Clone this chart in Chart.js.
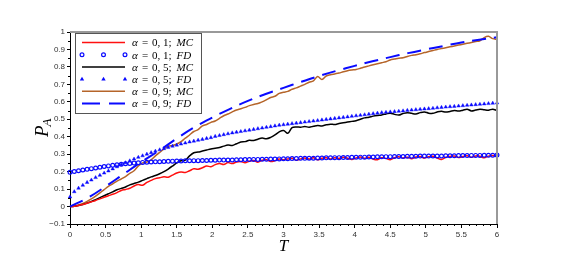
<!DOCTYPE html>
<html><head><meta charset="utf-8">
<script src="https://cdn.jsdelivr.net/npm/chart.js@4"></script>
<style>html,body{margin:0;padding:0;background:#fff}#wrap{width:569px;height:256px}</style>
</head><body><div id="wrap"><canvas id="c" width="569" height="256"></canvas></div>
<script>
// ---------- data ----------
const T = [0,0.06,0.12,0.18,0.24,0.3,0.36,0.42,0.48,0.54,
0.6,0.66,0.72,0.78,0.84,0.9,0.96,1.02,1.08,1.14,
1.2,1.26,1.32,1.38,1.44,1.5,1.56,1.62,1.68,1.74,
1.8,1.86,1.92,1.98,2.04,2.1,2.16,2.22,2.28,2.34,
2.4,2.46,2.52,2.58,2.64,2.7,2.76,2.82,2.88,2.94,
3,3.06,3.12,3.18,3.24,3.3,3.36,3.42,3.48,3.54,
3.6,3.66,3.72,3.78,3.84,3.9,3.96,4.02,4.08,4.14,
4.2,4.26,4.32,4.38,4.44,4.5,4.56,4.62,4.68,4.74,
4.8,4.86,4.92,4.98,5.04,5.1,5.16,5.22,5.28,5.34,
5.4,5.46,5.52,5.58,5.64,5.7,5.76,5.82,5.88,5.94,
6];
const Tcoarse = [0,0.25,0.5,0.75,1,1.25,1.5,1.75,2,2.25,2.5,2.75,3,3.25,3.5,3.75,4,4.25,4.5,4.75,5,5.25,5.5,5.75,6];

const mc01 = [0,.002,.006,.012,.019,.027,.035,.044,.053,.062,
.070,.080,.092,.098,.105,.118,.126,.122,.138,.150,
.160,.165,.170,.168,.180,.192,.198,.195,.205,.216,
.214,.222,.232,.228,.240,.247,.241,.252,.246,.255,
.258,.251,.260,.264,.254,.265,.268,.258,.263,.272,
.268,.272,.277,.265,.273,.278,.272,.279,.268,.277,
.280,.273,.280,.276,.283,.277,.270,.279,.284,.276,
.283,.272,.268,.280,.276,.268,.280,.285,.278,.283,
.274,.284,.287,.278,.285,.288,.278,.270,.282,.287,
.289,.281,.287,.291,.282,.290,.288,.279,.289,.292,
.285];
const fd01 = [.196,.201,.205,.209,.213,.217,.221,.225,.229,.233,
.236,.239,.242,.245,.247,.249,.251,.253,.254,.255,
.256,.257,.258,.259,.260,.261,.261,.262,.262,.263,
.263,.264,.264,.265,.265,.266,.266,.267,.267,.268,
.268,.269,.269,.270,.270,.271,.271,.272,.272,.273,
.274,.274,.275,.275,.276,.276,.277,.277,.278,.278,
.279,.279,.280,.280,.281,.281,.282,.282,.283,.283,
.284,.284,.285,.285,.286,.286,.287,.287,.287,.288,
.288,.288,.289,.289,.289,.290,.290,.290,.291,.291,
.291,.292,.292,.292,.293,.293,.293,.294,.294,.294,
.295];
const mc05 = [0,.002,.006,.012,.020,.029,.040,.051,.062,.073,
.084,.096,.104,.112,.124,.132,.140,.150,.160,.170,
.178,.188,.200,.215,.232,.250,.262,.266,.290,.308,
.312,.318,.324,.330,.334,.338,.346,.352,.350,.360,
.370,.372,.380,.378,.386,.392,.388,.396,.410,.428,
.436,.420,.452,.456,.455,.458,.455,.460,.465,.462,
.468,.472,.470,.476,.480,.484,.488,.492,.500,.508,
.512,.518,.522,.525,.530,.535,.528,.524,.533,.538,
.534,.530,.538,.542,.535,.534,.542,.546,.541,.545,
.550,.547,.552,.558,.548,.553,.558,.555,.552,.558,
.550];
const fd05 = [.055,.085,.105,.122,.138,.152,.166,.179,.192,.204,
.216,.228,.240,.251,.262,.272,.282,.291,.300,.309,
.317,.325,.332,.339,.346,.352,.358,.364,.370,.375,
.380,.385,.390,.395,.402,.407,.412,.417,.422,.426,
.430,.434,.438,.442,.446,.450,.454,.458,.462,.466,
.469,.472,.475,.478,.481,.484,.487,.490,.493,.496,
.499,.502,.505,.508,.511,.514,.517,.520,.523,.526,
.529,.532,.535,.538,.540,.542,.544,.546,.548,.551,
.553,.555,.557,.559,.561,.563,.566,.568,.570,.572,
.574,.576,.578,.580,.582,.584,.586,.588,.590,.592,
.594];
const mc09 = [0,.003,.009,.018,.030,.044,.060,.078,.097,.115,
.130,.146,.158,.172,.190,.205,.232,.250,.255,.268,
.290,.310,.330,.345,.350,.358,.372,.392,.410,.430,
.440,.462,.470,.482,.490,.505,.520,.530,.542,.553,
.560,.568,.578,.585,.590,.600,.612,.625,.632,.648,
.655,.660,.672,.680,.690,.700,.712,.720,.745,.728,
.748,.755,.760,.765,.772,.778,.782,.785,.792,.800,
.806,.812,.818,.824,.830,.840,.845,.850,.852,.860,
.866,.870,.875,.882,.888,.894,.900,.905,.910,.915,
.920,.925,.930,.935,.940,.945,.950,.968,.975,.962,
.958];
const fd09 = [0,.05,.115,.185,.255,.32,.39,.455,.51,.56,.605,.645,.68,.715,.748,.778,.806,.832,.856,.879,.9,.92,.94,.956,.97];

const xTickValues = [0,0.5,1,1.5,2,2.5,3,3.5,4,4.5,5,5.5,6];
const xTickLabels = ['0','0.5','1','1.5','2','2.5','3','3.5','4','4.5','5','5.5','6'];
const yTickValues = [-0.1,0,0.1,0.2,0.3,0.4,0.5,0.6,0.7,0.8,0.9,1];
const yTickLabels = ['\u22120.1','0','0.1','0.2','0.3','0.4','0.5','0.6','0.7','0.8','0.9','1'];

const alphaLabels = ['0, 1','0, 1','0, 5','0, 5','0, 9','0, 9'];
const methodLabels = ['MC','FD','MC','FD','MC','FD'];

// ---------- chart ----------
const pts = (xs, ys) => xs.map((x, i) => ({x: x, y: ys[i]}));
const BLUE = '#0a0aff', RED = '#ff1010', BROWN = '#b5652a';

const datasets = [
  {data: pts(Tcoarse, fd09), showLine: true, borderColor: BLUE, borderWidth: 2.0, borderDash: [14, 8], pointRadius: 0, tension: 0.4, fill: false},
  {data: pts(T, fd01), showLine: false, pointStyle: 'circle', pointRadius: 1.9, borderWidth: 1.2, borderColor: BLUE, backgroundColor: 'rgba(255,255,255,0)'},
  {data: pts(T, fd05), showLine: false, pointStyle: 'triangle', pointRadius: 2.1, borderWidth: 0.4, borderColor: BLUE, backgroundColor: BLUE},
  {data: pts(T, mc01), showLine: true, borderColor: RED, borderWidth: 1.5, pointRadius: 0, tension: 0.35},
  {data: pts(T, mc05), showLine: true, borderColor: '#000', borderWidth: 1.5, pointRadius: 0, tension: 0.35},
  {data: pts(T, mc09), showLine: true, borderColor: BROWN, borderWidth: 1.5, pointRadius: 0, tension: 0.35}
];
datasets.forEach(d => { d.clip = 5; });

const extras = {
  id: 'extras',
  afterDraw(chart) {
    const {ctx, chartArea: a, scales: {x, y}} = chart;
    ctx.save();
    // top & right frame
    ctx.strokeStyle = '#999'; ctx.lineWidth = 2;
    ctx.beginPath(); ctx.moveTo(a.left, a.top); ctx.lineTo(a.right, a.top); ctx.lineTo(a.right, a.bottom); ctx.stroke();
    // minor ticks
    ctx.strokeStyle = '#000'; ctx.lineWidth = 1;
    ctx.beginPath();
    for (let i = 0; i <= 60; i++) {
      if (i % 5 === 0) continue;
      const px = Math.round(x.getPixelForValue(i / 10)) + 0.5;
      ctx.moveTo(px, a.bottom); ctx.lineTo(px, a.bottom + 2);
    }
    for (let i = -2; i <= 20; i++) {
      if (i % 2 === 0) continue;
      const py = Math.round(y.getPixelForValue(i / 20)) + 0.5;
      ctx.moveTo(a.left - 2, py); ctx.lineTo(a.left, py);
    }
    ctx.stroke();
    // axis titles
    ctx.fillStyle = '#000';
    ctx.font = 'italic 17px "Liberation Serif"';
    ctx.textAlign = 'center'; ctx.textBaseline = 'alphabetic';
    ctx.fillText('T', (a.left + a.right) / 2, 251);
    ctx.save();
    ctx.translate(48, 137); ctx.rotate(-Math.PI / 2);
    ctx.textAlign = 'left';
    ctx.font = 'italic 19px "Liberation Serif"';
    ctx.fillText('P', 0, 0);
    const pw = ctx.measureText('P').width;
    ctx.font = 'italic 13px "Liberation Serif"';
    ctx.fillText('A', pw - 1, 3);
    ctx.restore();
    // legend
    const L = 75.5, Tp = 33.5, R = 201.5, B = 113.5;
    ctx.fillStyle = '#fff'; ctx.fillRect(L, Tp, R - L, B - Tp);
    ctx.strokeStyle = '#555'; ctx.lineWidth = 1; ctx.strokeRect(L, Tp, R - L, B - Tp);
    for (let i = 0; i < 6; i++) {
      const ry = 42.5 + i * 12.2;
      const ds = chart.data.datasets[[3, 1, 4, 2, 5, 0][i]];
      if (ds.showLine) {
        ctx.strokeStyle = ds.borderColor; ctx.lineWidth = ds.borderWidth;
        ctx.setLineDash(ds.borderDash ? [18, 9] : []);
        ctx.beginPath(); ctx.moveTo(82, ry); ctx.lineTo(125, ry); ctx.stroke();
        ctx.setLineDash([]);
      } else {
        [82, 103.5, 125].forEach(px => {
          if (ds.pointStyle === 'circle') {
            ctx.strokeStyle = ds.borderColor; ctx.lineWidth = 1.2;
            ctx.beginPath(); ctx.arc(px, ry, 1.9, 0, Math.PI * 2); ctx.stroke();
          } else {
            ctx.fillStyle = ds.backgroundColor;
            ctx.beginPath(); ctx.moveTo(px, ry - 2.4); ctx.lineTo(px + 2.2, ry + 1.4); ctx.lineTo(px - 2.2, ry + 1.4); ctx.closePath(); ctx.fill();
          }
        });
      }
      ctx.fillStyle = '#000'; ctx.textAlign = 'left'; ctx.textBaseline = 'middle';
      ctx.font = 'italic 11px "Liberation Serif"';
      ctx.fillText('\u03b1', 132, ry + 1);
      ctx.font = '11px "Liberation Serif"';
      ctx.fillText('=', 142, ry + 1);
      ctx.fillText(alphaLabels[i] + ';', 152, ry + 1);
      ctx.font = 'italic 11px "Liberation Serif"';
      ctx.fillText(methodLabels[i], 176.5, ry + 1);
    }
    ctx.restore();
  }
};

new Chart(document.getElementById('c'), {
  type: 'scatter',
  data: {datasets: datasets},
  options: {
    responsive: false, animation: false, devicePixelRatio: 1,
    layout: {padding: {top: 32, right: 72, left: 0, bottom: 0}},
    plugins: {legend: {display: false}, tooltip: {enabled: false}},
    scales: {
      x: {
        type: 'linear', min: 0, max: 6,
        afterBuildTicks: s => { s.ticks = xTickValues.map(v => ({value: v})); },
        ticks: {callback: (v, i) => xTickLabels[i], font: {size: 8, family: 'Liberation Sans'}, color: '#333', padding: 2, maxRotation: 0, autoSkip: false},
        grid: {drawOnChartArea: false, drawTicks: true, tickLength: 4, color: '#000'},
        border: {color: '#000', width: 1},
        afterFit: s => { s.height = 32; }
      },
      y: {
        type: 'linear', min: -0.1, max: 1,
        afterBuildTicks: s => { s.ticks = yTickValues.map(v => ({value: v})); },
        ticks: {callback: (v, i) => yTickLabels[i], font: {size: 8, family: 'Liberation Sans'}, color: '#333', padding: 2, autoSkip: false},
        grid: {drawOnChartArea: false, drawTicks: true, tickLength: 3, color: '#000'},
        border: {color: '#000', width: 1},
        afterFit: s => { s.width = 70; }
      }
    }
  },
  plugins: [extras]
});
</script></body></html>
